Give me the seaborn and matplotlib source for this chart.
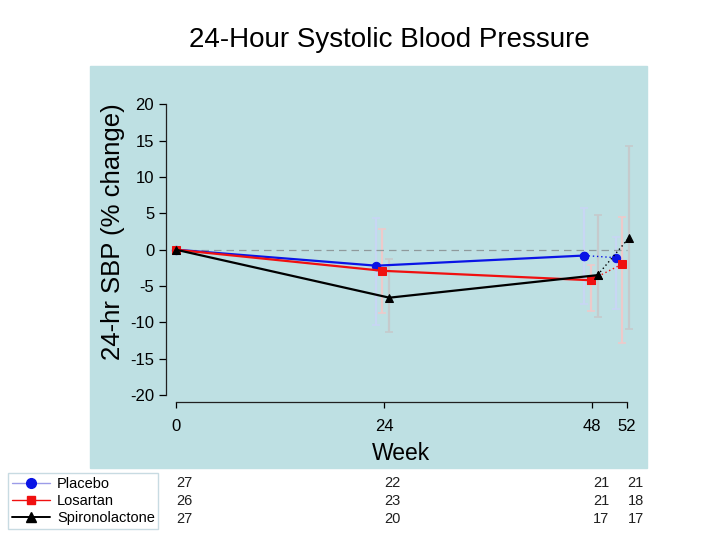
import numpy as np
import pandas as pd
import matplotlib
matplotlib.use('Agg')
from matplotlib import pyplot as plt
from matplotlib.lines import Line2D
from matplotlib.patches import Rectangle
from matplotlib.transforms import blended_transform_factory
import seaborn as sns

weeks = [0, 24, 48, 52]
groups = ["Placebo", "Losartan", "Spironolactone"]

# % change in 24-hr SBP (mean, lower and upper end of the bars)
placebo_mean = [0, -2.2, -0.8, -1.1]
placebo_lo = [np.nan, -10.4, -7.4, -8.1]
placebo_hi = [np.nan, 4.3, 5.8, 1.7]
losartan_mean = [0, -2.9, -4.2, -2.0]
losartan_lo = [np.nan, -8.7, -8.5, -12.9]
losartan_hi = [np.nan, 2.8, -2.1, 4.5]
spiro_mean = [0, -6.6, -3.5, 1.6]
spiro_lo = [np.nan, -11.3, -9.2, -10.9]
spiro_hi = [np.nan, -1.3, 4.8, 14.2]

# patients at each week
placebo_n = [27, 22, 21, 21]
losartan_n = [26, 23, 21, 18]
spiro_n = [27, 20, 17, 17]

means = [placebo_mean, losartan_mean, spiro_mean]
lows = [placebo_lo, losartan_lo, spiro_lo]
highs = [placebo_hi, losartan_hi, spiro_hi]
counts = [placebo_n, losartan_n, spiro_n]

colors = {"Placebo": "#0a14e6", "Losartan": "#f01010", "Spironolactone": "#000000"}
bar_colors = {"Placebo": "#c8d6f4", "Losartan": "#eecaca", "Spironolactone": "#c6cacc"}
markers = {"Placebo": "o", "Losartan": "s", "Spironolactone": "^"}
dodge = {"Placebo": -0.9, "Losartan": -0.2, "Spironolactone": 0.6}

rows = []
for gi, g in enumerate(groups):
    for i, w in enumerate(weeks):
        xpos = w if w == 0 else w + dodge[g] - (0.4 if w == 52 else 0)
        rows.append({"group": g, "week": w, "x": xpos, "value": means[gi][i],
                     "lo": lows[gi][i], "hi": highs[gi][i]})
df = pd.DataFrame(rows)

sns.set_style("ticks")
plt.rcParams['font.family'] = ['Liberation Sans', 'DejaVu Sans']
plt.rcParams['text.color'] = 'black'
plt.rcParams['xtick.color'] = 'black'
plt.rcParams['ytick.color'] = 'black'
plt.rcParams['axes.unicode_minus'] = False

fig = plt.figure(figsize=(7.2, 5.4), dpi=100)
fig.patches.append(Rectangle((90 / 720, 1 - 468 / 540), 557 / 720, 402 / 540,
                             transform=fig.transFigure, color="#bee0e3", zorder=-5))

ax = fig.add_axes([166 / 720, 1 - 402 / 540, 474 / 720, 312 / 540])
ax.set_facecolor("none")
ax.set_zorder(2)

# error bars
for g in groups:
    d = df[(df.group == g) & (df.week > 0)]
    ax.errorbar(d.x, d.value, yerr=[d.value - d.lo, d.hi - d.value], fmt="none",
                ecolor=bar_colors[g], elinewidth=1.6, capsize=3, capthick=1.2, zorder=1)

ax.hlines(0, weeks[0], weeks[-1], colors="#8f9a9c", linestyles=(0, (6, 4)), linewidth=0.9, zorder=1)

n_before = len(ax.lines)
solid = df[df.week <= 48]
dotted = df[df.week >= 48]
sns.lineplot(data=dotted, x="x", y="value", hue="group", style="group", palette=colors,
             markers=markers, dashes={g: (1, 2) for g in groups}, estimator=None, errorbar=None,
             sort=False, linewidth=1.0, markersize=6, legend=False, ax=ax, zorder=2)
sns.lineplot(data=solid, x="x", y="value", hue="group", style="group", palette=colors,
             markers=markers, dashes=False, estimator=None, errorbar=None,
             sort=False, linewidth=1.6, markersize=6, legend=False, ax=ax, zorder=3)
for ln in ax.lines[n_before:]:
    ln.set_markeredgecolor(ln.get_color())

ax.set_xlim(-1.15, 53.5)
ax.set_ylim(-20.95, 21.97)
ax.set_xticks(weeks)
ax.set_yticks(range(-20, 21, 5))
ax.spines["top"].set_visible(False)
ax.spines["right"].set_visible(False)
ax.spines["left"].set_bounds(-20, 20)
ax.spines["bottom"].set_bounds(0, 52)
for s in ("left", "bottom"):
    ax.spines[s].set_linewidth(0.9)
    ax.spines[s].set_color("#202020")
ax.tick_params(axis="y", length=5, width=0.9, pad=3.5, labelsize=12)
ax.tick_params(axis="x", length=4, width=0.9, pad=8, labelsize=12)
ax.set_xlabel("")
ax.set_ylabel("")

fig.text(113 / 720, 1 - 232 / 540, "24-hr SBP (% change)", rotation=90,
         ha="center", va="center", fontsize=18.5)
fig.text(401 / 720, 1 - 453 / 540, "Week", ha="center", va="center", fontsize=16.5)
fig.text(389 / 720, 1 - 40 / 540, "24-Hour Systolic Blood Pressure",
         ha="center", va="center", fontsize=20)

# legend with numbers of patients
handles = [
    Line2D([], [], color="#9c9ce8", lw=1.0, marker="o", ms=7, mfc=colors["Placebo"], mec=colors["Placebo"]),
    Line2D([], [], color="#f01010", lw=1.0, marker="s", ms=6, mfc=colors["Losartan"], mec=colors["Losartan"]),
    Line2D([], [], color="#000000", lw=1.4, marker="^", ms=7, mfc="black", mec="black"),
]
fig.legend(handles, groups, loc="upper left", bbox_to_anchor=(8 / 720, 1 - 473 / 540),
           frameon=True, fancybox=False, edgecolor="#c8dbe2", framealpha=1,
           borderaxespad=0, borderpad=0.25, handlelength=2.6, labelspacing=0.22,
           handletextpad=0.5, fontsize=10.5)

tr = blended_transform_factory(ax.transData, fig.transFigure)
row_y = [483, 501, 519]
for n, y in zip(counts, row_y):
    for w, c in zip(weeks, n):
        ax.text(w + 1.0, 1 - y / 540, str(c), transform=tr, ha="center", va="center",
                fontsize=10.5, color="#202020")

plt.savefig("out.png", dpi=100)
